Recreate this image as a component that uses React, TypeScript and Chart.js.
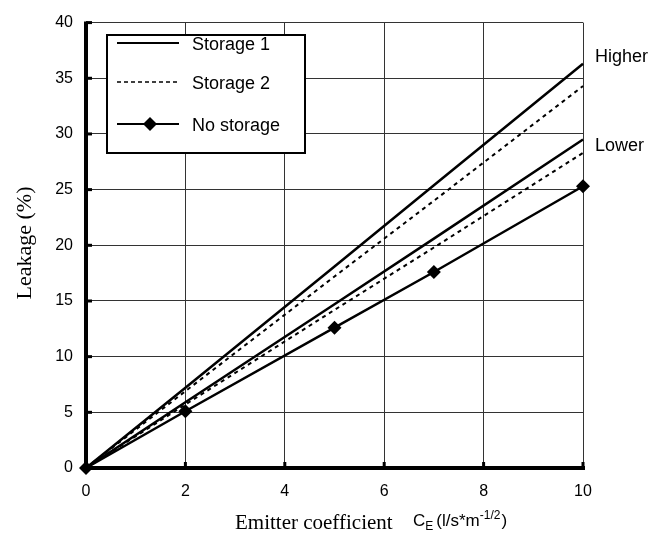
import React, { useEffect, useRef } from "react";
import { Chart, registerables } from "chart.js";

Chart.register(...registerables);

const xValues = [0, 2, 5, 7, 10];
const storage1Higher = [0, 7.2, 18.1, 25.4, 36.3];
const storage1Lower = [0, 5.9, 14.7, 20.6, 29.5];
const storage2Higher = [0, 6.9, 17.2, 24.0, 34.3];
const storage2Lower = [0, 5.7, 14.2, 19.8, 28.3];
const noStorage = [0, 5.1, 12.6, 17.6, 25.3];
const xTicks = [0, 2, 4, 6, 8, 10];
const yTicks = [0, 5, 10, 15, 20, 25, 30, 35, 40];
const legendLabels = ["Storage 1", "Storage 2", "No storage"];
const groupLabels = ["Higher", "Lower"];

const toPts = (ys: number[]) => xValues.map((x, i) => ({ x, y: ys[i] }));

const SANS = "Arial, 'Liberation Sans', sans-serif";
const SERIF = "'Liberation Serif', 'Times New Roman', serif";

const overlayPlugin = {
  id: "overlay",
  afterDraw(chart: any) {
    const ctx = chart.ctx as CanvasRenderingContext2D;
    const xs = chart.scales.x;
    const ys = chart.scales.y;
    const area = chart.chartArea;
    ctx.save();
    // thick axes
    ctx.strokeStyle = "#000";
    ctx.lineWidth = 4;
    ctx.beginPath();
    ctx.moveTo(area.left, area.top - 1);
    ctx.lineTo(area.left, area.bottom);
    ctx.lineTo(area.right + 2, area.bottom);
    ctx.stroke();
    // inward tick marks
    ctx.fillStyle = "#000";
    yTicks.forEach((t) => {
      const py = ys.getPixelForValue(t);
      ctx.fillRect(area.left, py - 1.5, 6, 3);
    });
    xTicks.forEach((t) => {
      const px = xs.getPixelForValue(t);
      ctx.fillRect(px - 1.5, area.bottom - 6, 3, 6);
    });
    // group labels
    ctx.font = "18px " + SANS;
    ctx.textBaseline = "middle";
    ctx.textAlign = "left";
    ctx.fillText(groupLabels[0], area.right + 12, 57);
    ctx.fillText(groupLabels[1], area.right + 12, 146);
    // legend
    const lx = 107, ly = 35, lw = 198, lh = 118;
    ctx.fillStyle = "#fff";
    ctx.fillRect(lx, ly, lw, lh);
    ctx.strokeStyle = "#000";
    ctx.lineWidth = 2;
    ctx.strokeRect(lx, ly, lw, lh);
    const rows = [43, 82, 124];
    ctx.font = "18px " + SANS;
    rows.forEach((ry, i) => {
      ctx.beginPath();
      ctx.lineWidth = i === 1 ? 1.5 : 2;
      ctx.setLineDash(i === 1 ? [4, 3] : []);
      ctx.moveTo(117, ry);
      ctx.lineTo(179, ry);
      ctx.stroke();
      ctx.setLineDash([]);
      if (i === 2) {
        ctx.fillStyle = "#000";
        ctx.beginPath();
        ctx.moveTo(143, ry);
        ctx.lineTo(150, ry - 7);
        ctx.lineTo(157, ry);
        ctx.lineTo(150, ry + 7);
        ctx.closePath();
        ctx.fill();
      }
      ctx.fillStyle = "#000";
      ctx.textAlign = "left";
      ctx.fillText(legendLabels[i], 192, ry + 2);
    });
    // y title
    ctx.save();
    ctx.translate(25, 243);
    ctx.rotate(-Math.PI / 2);
    ctx.textAlign = "center";
    ctx.textBaseline = "middle";
    ctx.font = "22px " + SERIF;
    ctx.fillText("Leakage (%)", 0, 0);
    ctx.restore();
    // x title
    ctx.textAlign = "left";
    ctx.textBaseline = "alphabetic";
    ctx.font = "21px " + SERIF;
    ctx.fillText("Emitter coefficient", 235, 529);
    let cx = 413;
    const base = 526;
    ctx.font = "17px " + SANS;
    ctx.fillText("C", cx, base);
    cx += ctx.measureText("C").width;
    ctx.font = "12px " + SANS;
    ctx.fillText("E", cx, base + 4);
    cx += ctx.measureText("E").width + 3;
    ctx.font = "17px " + SANS;
    ctx.fillText("(l/s*m", cx, base);
    cx += ctx.measureText("(l/s*m").width;
    ctx.font = "12px " + SANS;
    ctx.fillText("-1/2", cx, base - 7);
    cx += ctx.measureText("-1/2").width + 1;
    ctx.font = "17px " + SANS;
    ctx.fillText(")", cx, base);
    ctx.restore();
  },
};

export default function App() {
  const ref = useRef<HTMLCanvasElement>(null);
  useEffect(() => {
    if (!ref.current) return;
    const solid = { borderColor: "#000", borderWidth: 2.5, pointRadius: 0, fill: false, tension: 0 };
    const dashed = { borderColor: "#000", borderWidth: 2, borderDash: [4, 4], pointRadius: 0, fill: false, tension: 0 };
    const chart = new Chart(ref.current, {
      type: "line",
      data: {
        datasets: [
          { label: "Storage 1 Higher", data: toPts(storage1Higher), ...solid },
          { label: "Storage 2 Higher", data: toPts(storage2Higher), ...dashed },
          { label: "Storage 1 Lower", data: toPts(storage1Lower), ...solid },
          { label: "Storage 2 Lower", data: toPts(storage2Lower), ...dashed },
          {
            label: "No storage",
            data: toPts(noStorage),
            borderColor: "#000",
            backgroundColor: "#000",
            borderWidth: 2.5,
            pointStyle: "rectRot",
            pointRadius: 7,
            pointBorderWidth: 0,
            fill: false,
            tension: 0,
          },
        ],
      },
      options: {
        animation: false,
        responsive: false,
        clip: false as any,
        layout: { padding: { left: 0, right: 69, top: 18, bottom: 0 } },
        plugins: { legend: { display: false }, tooltip: { enabled: false } },
        scales: {
          x: {
            type: "linear",
            min: 0,
            max: 10,
            afterFit: (s: any) => { s.height = 71; },
            afterBuildTicks: (s: any) => { s.ticks = xTicks.map((v) => ({ value: v })); },
            grid: { color: "#333", lineWidth: 1, drawTicks: false },
            border: { display: false },
            ticks: {
              color: "#000",
              padding: 14,
              font: { family: SANS, size: 16 },
            },
          },
          y: {
            type: "linear",
            min: 0,
            max: 40,
            afterFit: (s: any) => { s.width = 86; },
            afterBuildTicks: (s: any) => { s.ticks = yTicks.map((v) => ({ value: v })); },
            grid: { color: "#333", lineWidth: 1, drawTicks: false },
            border: { display: false },
            ticks: {
              color: "#000",
              padding: 13,
              font: { family: SANS, size: 16 },
            },
          },
        },
      },
      plugins: [overlayPlugin],
    });
    return () => chart.destroy();
  }, []);
  return (
    <div style={{ position: "fixed", left: 0, top: 0, width: 652, height: 539, background: "#fff" }}>
      <canvas ref={ref} width={652} height={539} style={{ width: 652, height: 539 }} />
    </div>
  );
}
